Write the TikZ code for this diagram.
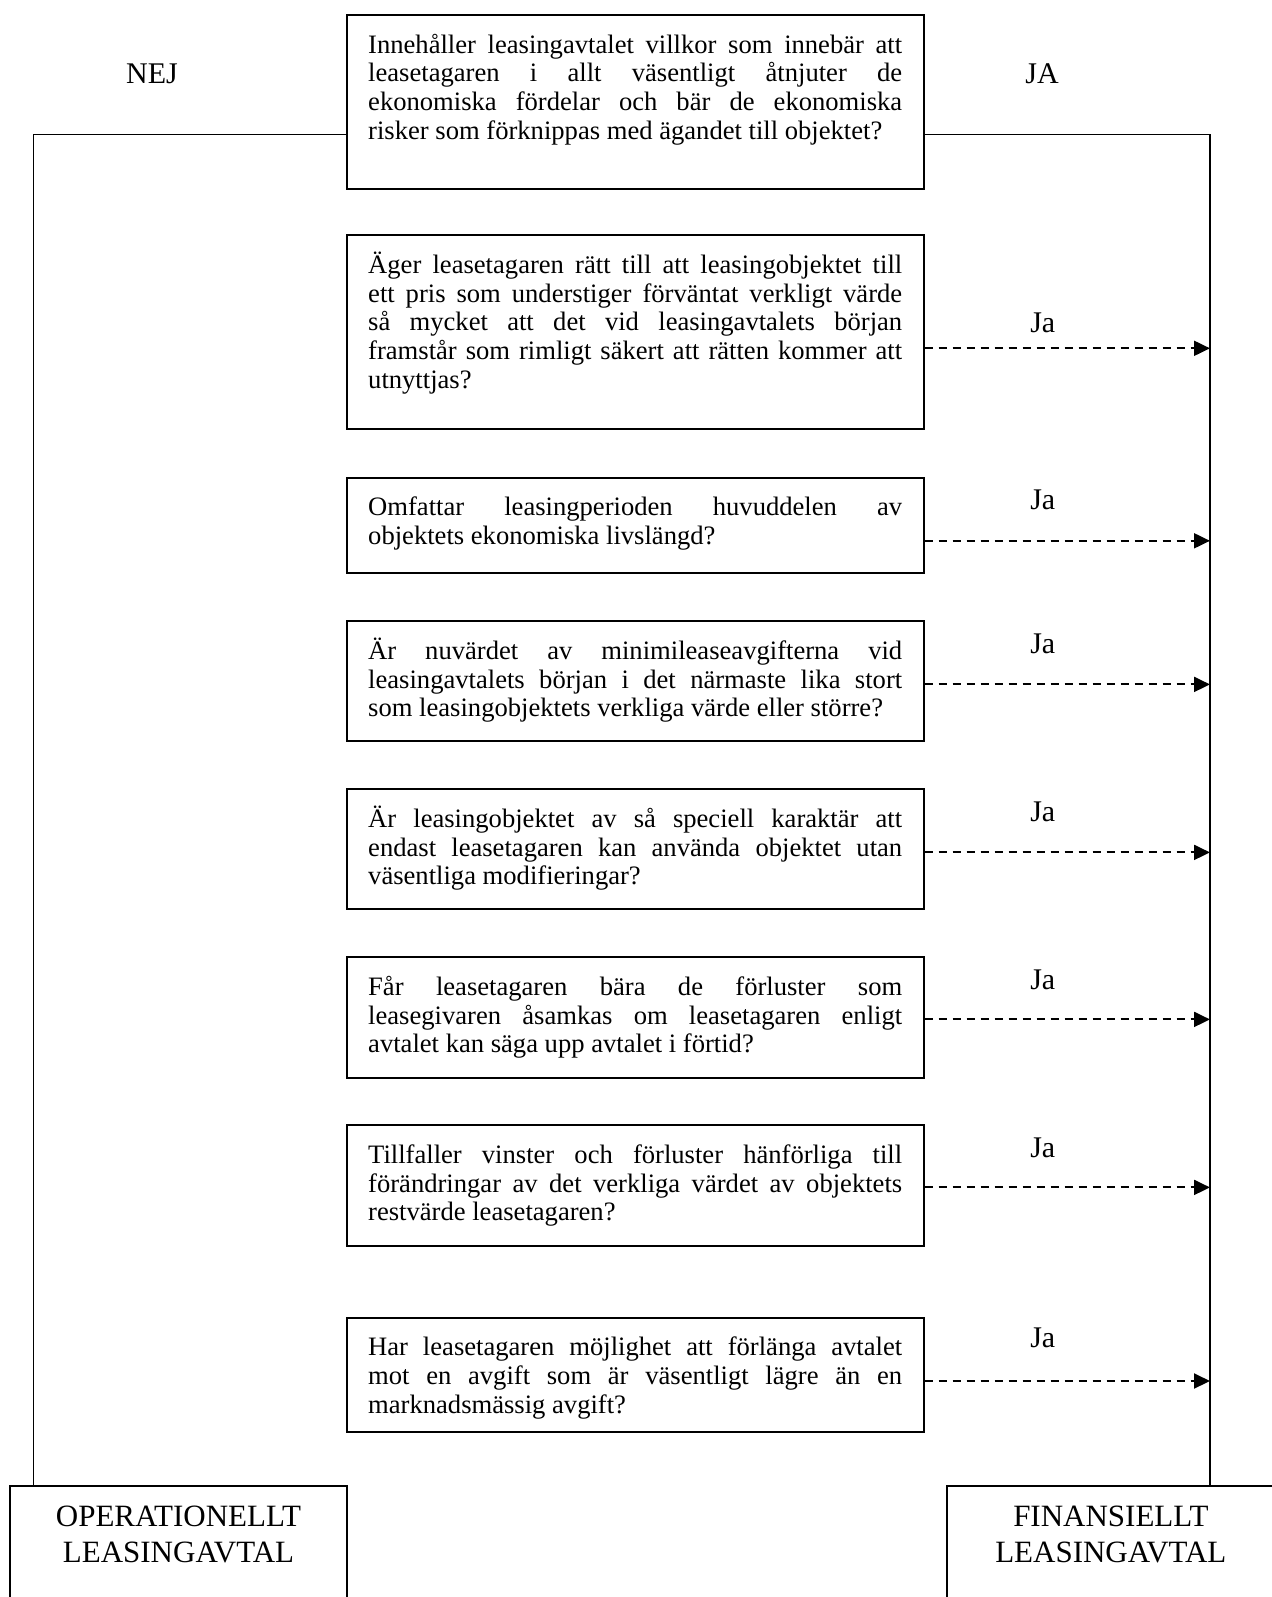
\documentclass[tikz,border=0pt]{standalone}
\usepackage{fontspec}
\setmainfont{Liberation Serif}
\usetikzlibrary{arrows.meta}
\lineskiplimit=-10pt

\newcommand{\qtext}[2]{\parbox[t][#1][t]{267pt}{\sloppy\rule{0pt}{12pt}#2}}
\newcommand{\outtext}[2]{\parbox[t][80pt][t]{#1}{\centering\rule{0pt}{13pt}#2}}

\begin{document}
\begin{tikzpicture}[x=0.5pt, y=-0.5pt,
  qbox/.style={draw, line width=1pt, anchor=north west, inner xsep=10.75pt, inner ysep=7pt, font=\fontsize{13.3}{14.4}\selectfont},
  endbox/.style={draw, line width=1pt, anchor=north west, inner xsep=5pt, inner ysep=7pt, font=\fontsize{15.5}{18.35}\selectfont},
  answer/.style={anchor=base, font=\fontsize{15}{18}\selectfont},
  link/.style={line width=0.9pt},
  jaarrow/.style={line width=1pt, dash pattern=on 4pt off 3pt, -{Triangle[length=8pt,width=7.5pt]}},
  jalabel/.style={pos=0.414, anchor=base, font=\fontsize{15}{18}\selectfont}]
  \useasboundingbox (0,0) rectangle (1272,1597);
  % Main question
  \node[qbox] (q1) at (345.7,14) {\qtext{73pt}{Innehåller leasingavtalet villkor som innebär att\linebreak leasetagaren i allt väsentligt åtnjuter de\linebreak ekonomiska fördelar och bär de ekonomiska\linebreak risker som förknippas med ägandet till objektet?}};
  \node[answer] (nej) at (152,83.3) {NEJ};
  \node[answer] (ja) at (1042,83.3) {JA};
  % Indicators
  \node[qbox] (q2) at (345.7,234.2) {\qtext{82.75pt}{Äger leasetagaren rätt till att leasingobjektet till\linebreak ett pris som understiger förväntat verkligt värde\linebreak så mycket att det vid leasingavtalets början\linebreak framstår som rimligt säkert att rätten kommer att\linebreak utnyttjas?}};
  \node[qbox] (q3) at (345.7,476.6) {\qtext{33.85pt}{Omfattar leasingperioden huvuddelen av\linebreak objektets ekonomiska livslängd?}};
  \node[qbox] (q4) at (345.7,620.2) {\qtext{46.1pt}{Är nuvärdet av minimileaseavgifterna vid\linebreak leasingavtalets början i det närmaste lika stort\linebreak som leasingobjektets verkliga värde eller större?}};
  \node[qbox] (q5) at (345.7,788.2) {\qtext{46.1pt}{Är leasingobjektet av så speciell karaktär att\linebreak endast leasetagaren kan använda objektet utan\linebreak väsentliga modifieringar?}};
  \node[qbox] (q6) at (345.7,956.3) {\qtext{46.1pt}{Får leasetagaren bära de förluster som\linebreak leasegivaren åsamkas om leasetagaren enligt\linebreak avtalet kan säga upp avtalet i förtid?}};
  \node[qbox] (q7) at (345.7,1124.3) {\qtext{46.1pt}{Tillfaller vinster och förluster hänförliga till\linebreak förändringar av det verkliga värdet av objektets\linebreak restvärde leasetagaren?}};
  \node[qbox] (q8) at (345.7,1316.8) {\qtext{43pt}{Har leasetagaren möjlighet att förlänga avtalet\linebreak mot en avgift som är väsentligt lägre än en\linebreak marknadsmässig avgift?}};
  % Outcomes
  \node[endbox] (op) at (9.3,1485) {\outtext{158.2pt}{OPERATIONELLT\\LEASINGAVTAL}};
  \node[endbox] (fin) at (945.7,1485) {\outtext{154.15pt}{FINANSIELLT\\LEASINGAVTAL}};
  % Solid lines
  \coordinate (nejturn) at (33.5,134.4);
  \coordinate (jaturn) at (1210,134.4);
  \draw[link] (q1.west |- nejturn) -- (nejturn) -- (op.north -| nejturn);
  \draw[link] (q1.east |- jaturn) -- (jaturn) -- (fin.north -| jaturn);
  % Dashed arrows
  \coordinate (ja2) at (1210,348.3);
  \coordinate (ja3) at (1210,540.8);
  \coordinate (ja4) at (1210,684.4);
  \coordinate (ja5) at (1210,852.4);
  \coordinate (ja6) at (1210,1019.4);
  \coordinate (ja7) at (1210,1187.4);
  \coordinate (ja8) at (1210,1381);
  \draw[jaarrow] (q2.east |- ja2) -- node[jalabel, yshift=8pt] {Ja} (ja2);
  \draw[jaarrow] (q3.east |- ja3) -- node[jalabel, yshift=15.5pt] {Ja} (ja3);
  \draw[jaarrow] (q4.east |- ja4) -- node[jalabel, yshift=15.5pt] {Ja} (ja4);
  \draw[jaarrow] (q5.east |- ja5) -- node[jalabel, yshift=15.5pt] {Ja} (ja5);
  \draw[jaarrow] (q6.east |- ja6) -- node[jalabel, yshift=15pt] {Ja} (ja6);
  \draw[jaarrow] (q7.east |- ja7) -- node[jalabel, yshift=15pt] {Ja} (ja7);
  \draw[jaarrow] (q8.east |- ja8) -- node[jalabel, yshift=17pt] {Ja} (ja8);
\end{tikzpicture}
\end{document}
